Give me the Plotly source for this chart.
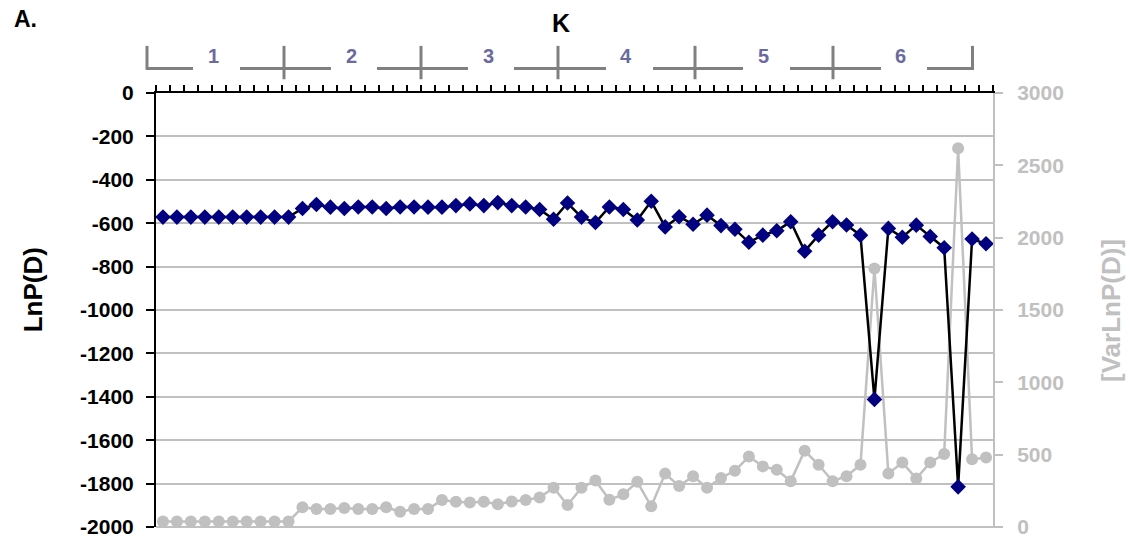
import plotly.graph_objects as go

# ---- data ----
k_values = [1, 2, 3, 4, 5, 6]
runs_per_k = 10

lnp_k1 = [-572, -572, -572, -572, -572, -572, -572, -572, -572, -572]
lnp_k2 = [-532, -514, -526, -532, -525, -525, -532, -525, -525, -526]
lnp_k3 = [-526, -519, -511, -519, -505, -519, -525, -537, -582, -507]
lnp_k4 = [-572, -597, -525, -537, -585, -499, -617, -570, -605, -563]
lnp_k5 = [-611, -628, -688, -655, -635, -593, -729, -655, -593, -608]
lnp_k6 = [-655, -1412, -624, -665, -609, -661, -713, -1815, -673, -695]

var_k1 = [38, 38, 38, 38, 38, 38, 38, 38, 38, 38]
var_k2 = [136, 124, 124, 131, 124, 124, 136, 106, 124, 124]
var_k3 = [186, 174, 170, 174, 158, 176, 186, 204, 271, 152]
var_k4 = [271, 321, 188, 226, 312, 143, 369, 283, 351, 271]
var_k5 = [339, 389, 487, 419, 396, 317, 527, 430, 317, 351]
var_k6 = [430, 1787, 369, 446, 335, 446, 504, 2618, 468, 480]

lnp_ticks = list(range(-2000, 1, 200))
lnp_ticktext = [str(v) for v in lnp_ticks]
var_ticks = list(range(0, 3001, 500))

lnp = lnp_k1 + lnp_k2 + lnp_k3 + lnp_k4 + lnp_k5 + lnp_k6
var = var_k1 + var_k2 + var_k3 + var_k4 + var_k5 + var_k6
run_index = list(range(1, len(lnp) + 1))

# ---- layout geometry ----
W, H = 1130, 550
ML, MR, MT, MB = 156, 137, 93, 15
PW, PH = W - ML - MR, H - MT - MB


def px(x):
    return (x - ML) / PW


def py(y):
    return (H - MB - y) / PH


FONT = "Liberation Sans, Arial, sans-serif"
GRAY = "#c0c0c0"
BRACKET = "#808080"
KCOLOR = "#6a6aa0"

fig = go.Figure()

fig.add_trace(go.Scatter(
    x=run_index, y=var, yaxis="y", mode="lines+markers",
    line=dict(color=GRAY, width=2.5),
    marker=dict(symbol="circle", size=12, color=GRAY),
    name="VarLnP(D)", showlegend=False, cliponaxis=False,
))
fig.add_trace(go.Scatter(
    x=run_index, y=lnp, yaxis="y2", mode="lines+markers",
    line=dict(color="black", width=2.5),
    marker=dict(symbol="diamond", size=12, color="#000080"),
    name="LnP(D)", showlegend=False, cliponaxis=False,
))

shapes = []
seg_y = py(68)
# horizontal segments of the K bracket axis
segments = [(147, 193), (240, 331), (377, 468), (514, 606), (653, 743), (790, 881), (927, 974)]
for a, b in segments:
    shapes.append(dict(type="line", xref="paper", yref="paper", x0=px(a), x1=px(b),
                       y0=seg_y, y1=seg_y, line=dict(color=BRACKET, width=3)))
# vertical ticks of the K bracket axis
vticks = [(147, 45, 69.5), (284, 45, 79), (421, 45, 79), (558, 45, 79), (695, 45, 79), (833, 45, 79), (972.5, 45, 69.5)]
for x, y0, y1 in vticks:
    shapes.append(dict(type="line", xref="paper", yref="paper", x0=px(x), x1=px(x),
                       y0=py(y0), y1=py(y1), line=dict(color=BRACKET, width=3)))
# bottom border
shapes.append(dict(type="line", xref="paper", yref="paper", x0=0, x1=px(995),
                   y0=0, y1=0, line=dict(color=GRAY, width=2), layer="below"))

label_x = [213, 351, 488, 626, 763, 900]
annotations = []
for k, lx in zip(k_values, label_x):
    annotations.append(dict(text=str(k), xref="paper", yref="paper", x=px(lx), y=py(55),
                            showarrow=False, xanchor="center", yanchor="middle",
                            font=dict(family=FONT, size=20, color=KCOLOR, weight="bold")))
annotations += [
    dict(text="K", xref="paper", yref="paper", x=px(561), y=py(22), showarrow=False,
         xanchor="center", yanchor="middle",
         font=dict(family=FONT, size=25, color="black", weight="bold")),
    dict(text="A.", xref="paper", yref="paper", x=px(12), y=py(18), showarrow=False,
         xanchor="left", yanchor="middle",
         font=dict(family=FONT, size=23, color="black", weight="bold")),
    dict(text="LnP(D)", xref="paper", yref="paper", x=px(33), y=py(294), showarrow=False,
         xanchor="center", yanchor="middle", textangle=-90,
         font=dict(family=FONT, size=26, color="black", weight="bold")),
    dict(text="[VarLnP(D)]", xref="paper", yref="paper", x=px(1111), y=py(315), showarrow=False,
         xanchor="center", yanchor="middle", textangle=-90,
         font=dict(family=FONT, size=26, color=GRAY, weight="bold")),
]

fig.update_layout(
    width=W, height=H, autosize=False,
    margin=dict(l=ML, r=MR, t=MT, b=MB, pad=0),
    paper_bgcolor="white", plot_bgcolor="white",
    font=dict(family=FONT),
    showlegend=False,
    xaxis=dict(
        range=[0.5, len(lnp) + 0.5], side="top", anchor="y",
        showline=True, linecolor="black", linewidth=2,
        ticks="outside", ticklen=6, tickwidth=1.5, tickcolor="black",
        tickvals=[i + 0.5 for i in range(0, len(lnp) + 1)],
        showticklabels=False, showgrid=False, zeroline=False,
    ),
    yaxis=dict(
        range=[0, 3000], side="right", tickvals=var_ticks,
        showline=True, linecolor=GRAY, linewidth=2,
        ticks="outside", ticklen=8, tickwidth=2, tickcolor=GRAY,
        ticklabelstandoff=10,
        tickfont=dict(family=FONT, size=21, color=GRAY, weight="bold"),
        showgrid=False, zeroline=False,
    ),
    yaxis2=dict(
        range=[-2000, 0], side="left", overlaying="y",
        tickvals=lnp_ticks, ticktext=lnp_ticktext,
        showline=True, linecolor="black", linewidth=2,
        ticks="outside", ticklen=8, tickwidth=2, tickcolor="black",
        ticklabelstandoff=8,
        tickfont=dict(family=FONT, size=21, color="black", weight="bold"),
        showgrid=True, gridcolor=GRAY, gridwidth=2, zeroline=False,
    ),
    shapes=shapes,
    annotations=annotations,
)

fig.write_html("out.html", config={"displayModeBar": False},
               post_script="document.body.style.margin='0';")
